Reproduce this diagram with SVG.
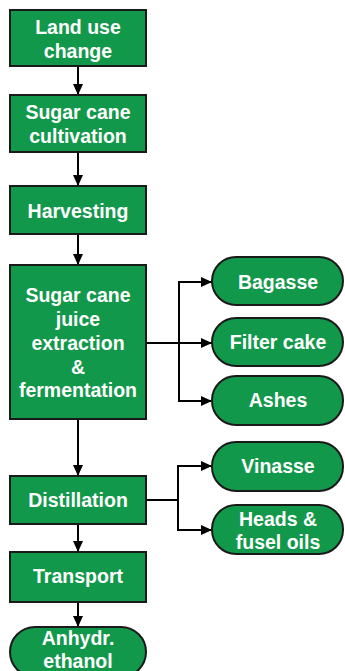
<svg xmlns="http://www.w3.org/2000/svg" width="345" height="671" viewBox="0 0 345 671">
<style>
.n{fill:#12984a;stroke:#1a1a1a;stroke-width:2}
.t{font-family:"Liberation Sans",Arial,sans-serif;font-weight:bold;font-size:19.5px;fill:#fff;text-anchor:middle}
.c{fill:none;stroke:#000;stroke-width:2}
</style>
<defs>
<marker id="ah" markerUnits="userSpaceOnUse" markerWidth="12" markerHeight="12" refX="11" refY="5" orient="auto" viewBox="0 0 12 10">
<path d="M0,0 L11,5 L0,10 z" fill="#000"/>
</marker>
</defs>
<g id="connectors">
<line class="c" x1="78" y1="66" x2="78" y2="95" marker-end="url(#ah)"/>
<line class="c" x1="78" y1="152" x2="78" y2="186" marker-end="url(#ah)"/>
<line class="c" x1="78" y1="234" x2="78" y2="265" marker-end="url(#ah)"/>
<line class="c" x1="78" y1="419" x2="78" y2="476" marker-end="url(#ah)"/>
<line class="c" x1="78" y1="524" x2="78" y2="552" marker-end="url(#ah)"/>
<line class="c" x1="78" y1="602" x2="78" y2="627" marker-end="url(#ah)"/>
<path class="c" d="M146,343 H179 M179,282 V401"/>
<line class="c" x1="178" y1="282" x2="212" y2="282" marker-end="url(#ah)"/>
<line class="c" x1="179" y1="343" x2="212" y2="343" marker-end="url(#ah)"/>
<line class="c" x1="178" y1="401" x2="212" y2="401" marker-end="url(#ah)"/>
<path class="c" d="M146,500 H178 M178,466 V530"/>
<line class="c" x1="177" y1="466" x2="212" y2="466" marker-end="url(#ah)"/>
<line class="c" x1="177" y1="530" x2="212" y2="530" marker-end="url(#ah)"/>
</g>
<g id="landuse"><rect class="n" x="10" y="10" width="136" height="56"/><text class="t" x="78" y="34">Land use</text><text class="t" x="78" y="57.5">change</text></g>
<g id="cultivation"><rect class="n" x="10" y="95" width="136" height="57"/><text class="t" x="78" y="119">Sugar cane</text><text class="t" x="78" y="142.5">cultivation</text></g>
<g id="harvesting"><rect class="n" x="10" y="186" width="136" height="48"/><text class="t" x="78" y="218">Harvesting</text></g>
<g id="extraction"><rect class="n" x="10" y="265" width="136" height="154"/><text class="t" x="78" y="302">Sugar cane</text><text class="t" x="78" y="326">juice</text><text class="t" x="78" y="350">extraction</text><text class="t" x="78" y="374">&amp;</text><text class="t" x="78" y="397">fermentation</text></g>
<g id="distillation"><rect class="n" x="10" y="476" width="136" height="48"/><text class="t" x="78" y="507">Distillation</text></g>
<g id="transport"><rect class="n" x="10" y="552" width="136" height="50"/><text class="t" x="78" y="583">Transport</text></g>
<g id="ethanol"><rect class="n" x="10" y="627" width="136" height="50" rx="25"/><text class="t" x="78" y="645">Anhydr.</text><text class="t" x="78" y="668">ethanol</text></g>
<g id="bagasse"><rect class="n" x="212" y="257" width="131" height="48" rx="24"/><text class="t" x="278" y="289">Bagasse</text></g>
<g id="filtercake"><rect class="n" x="212" y="318" width="131" height="48" rx="24"/><text class="t" x="278" y="349">Filter cake</text></g>
<g id="ashes"><rect class="n" x="212" y="376" width="131" height="49" rx="24"/><text class="t" x="278" y="407">Ashes</text></g>
<g id="vinasse"><rect class="n" x="212" y="442" width="131" height="49" rx="24"/><text class="t" x="278" y="473">Vinasse</text></g>
<g id="heads"><rect class="n" x="212" y="505" width="131" height="49" rx="24"/><text class="t" x="278" y="526">Heads &amp;</text><text class="t" x="278" y="549">fusel oils</text></g>
</svg>
